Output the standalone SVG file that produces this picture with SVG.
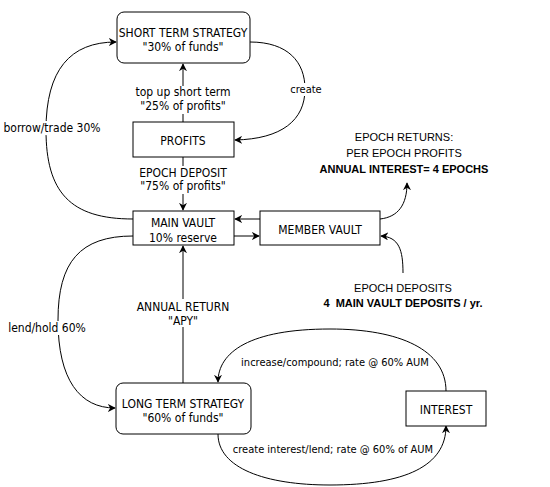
<svg xmlns="http://www.w3.org/2000/svg" width="550" height="487" viewBox="0 0 550 487">
<defs>
<marker id="ah" viewBox="0 0 10 10" refX="9" refY="5" markerWidth="8" markerHeight="8" markerUnits="userSpaceOnUse" orient="auto">
<path d="M0,0 L10,5 L0,10 L3,5 Z" fill="#000"/>
</marker>
<style>
.box{fill:#fff;stroke:#000;stroke-width:1}
.t{font-family:"DejaVu Sans Condensed","DejaVu Sans",sans-serif;font-stretch:condensed;font-size:12px;fill:#000;text-anchor:middle}
.e{font-family:"DejaVu Sans Condensed","DejaVu Sans",sans-serif;font-stretch:condensed;font-size:11px;fill:#000;text-anchor:middle}
.a{font-family:"Liberation Sans",Arial,sans-serif;font-size:11px;fill:#000;text-anchor:middle}
.b{font-weight:bold}
.c{fill:none;stroke:#000;stroke-width:1;marker-end:url(#ah)}
.bg{fill:#fff}
</style>
</defs>
<rect width="550" height="487" fill="#fff"/>
<g id="connectors">
<path class="c" d="M183,122 L183,64"/>
<path class="c" d="M183,157 L183,210"/>
<path class="c" d="M183,383 L183,246"/>
<path class="c" d="M250,42 C288,42 305,62 305,89 C305,120 282,139 235,140"/>
<path class="c" d="M133,219 C70,219 46,192 46,130 C46,70 70,42 116,42"/>
<path class="c" d="M133,236 C80,236 58,262 58,320 C58,380 80,408 115,408"/>
<path class="c" d="M260,219 L235,219"/>
<path class="c" d="M234,236 L259,236"/>
<path class="c" d="M380,219 C398,217 407,205 407,183"/>
<path class="c" d="M403,273 C403,250 399,237 381,236"/>
<path class="c" d="M446,391 C446,350 400,329 330,329 C250,329 218,352 218,382"/>
<path class="c" d="M218,434 C218,468 265,485 330,485 C405,485 446,466 446,426"/>
</g>
<g id="edge-labels">
<rect class="bg" x="133" y="86" width="100" height="28"/>
<text class="t" x="183" y="96">top up short term</text>
<text class="t" x="183" y="110">"25% of profits"</text>
<rect class="bg" x="136" y="166" width="94" height="28"/>
<text class="t" x="183" y="177">EPOCH DEPOSIT</text>
<text class="t" x="183" y="190">"75% of profits"</text>
<rect class="bg" x="135" y="299" width="96" height="28"/>
<text class="t" x="183" y="311">ANNUAL RETURN</text>
<text class="t" x="183" y="325">"APY"</text>
<rect class="bg" x="290" y="83" width="32" height="13"/>
<text class="e" x="306" y="93">create</text>
<rect class="bg" x="2" y="121" width="100" height="14"/>
<text class="t" x="52" y="132">borrow/trade 30%</text>
<rect class="bg" x="6" y="321" width="82" height="14"/>
<text class="t" x="47" y="332">lend/hold 60%</text>
<text class="e" x="335" y="366">increase/compound; rate @ 60% AUM</text>
<text class="e" x="333" y="453">create interest/lend; rate @ 60% of AUM</text>
<text class="a" x="404" y="141">EPOCH RETURNS:</text>
<text class="a" x="404" y="157">PER EPOCH PROFITS</text>
<text class="a b" x="404" y="173">ANNUAL INTEREST= 4 EPOCHS</text>
<text class="a" x="403" y="292">EPOCH DEPOSITS</text>
<text class="a b" x="403" y="307" xml:space="preserve">4  MAIN VAULT DEPOSITS / yr.</text>
</g>
<g id="short-term">
<rect class="box" x="117" y="12" width="133" height="51" rx="7"/>
<text class="t" x="183" y="37">SHORT TERM STRATEGY</text>
<text class="t" x="183" y="51">"30% of funds"</text>
</g>
<g id="profits">
<rect class="box" x="133" y="122" width="101" height="35"/>
<text class="t" x="183" y="145">PROFITS</text>
</g>
<g id="main-vault">
<rect class="box" x="133" y="211" width="101" height="34"/>
<text class="t" x="183" y="227">MAIN VAULT</text>
<text class="t" x="183" y="242">10% reserve</text>
</g>
<g id="member-vault">
<rect class="box" x="260" y="211" width="120" height="34"/>
<text class="t" x="320" y="234">MEMBER VAULT</text>
</g>
<g id="long-term">
<rect class="box" x="116" y="383" width="135" height="51" rx="7"/>
<text class="t" x="183" y="408">LONG TERM STRATEGY</text>
<text class="t" x="183" y="422">"60% of funds"</text>
</g>
<g id="interest">
<rect class="box" x="406" y="391" width="80" height="35"/>
<text class="t" x="446" y="414">INTEREST</text>
</g>
</svg>
